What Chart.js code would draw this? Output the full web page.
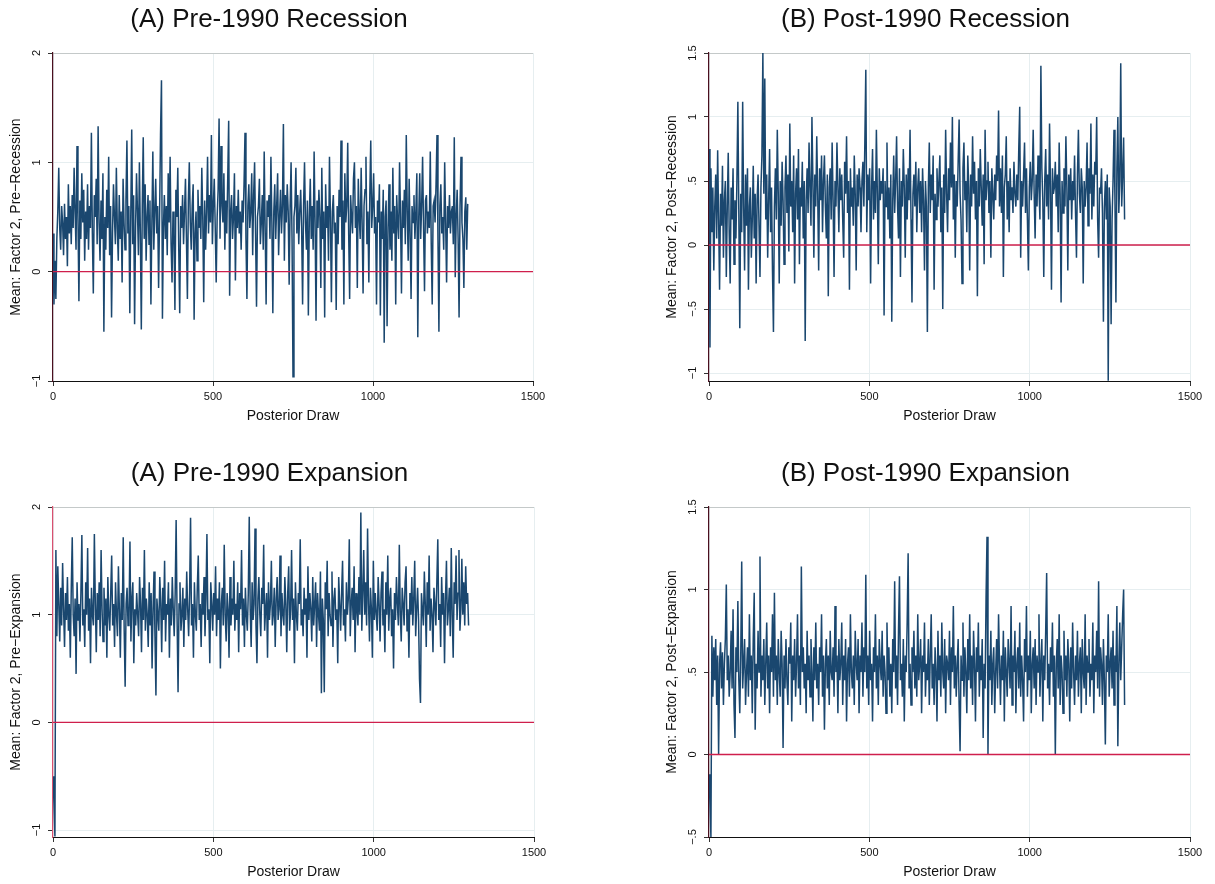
<!DOCTYPE html>
<html>
<head>
<meta charset="utf-8">
<title>Trace plots: Factor 2 means</title>
<script src="https://cdn.jsdelivr.net/npm/chart.js"></script>
<style>
    body { margin: 0; background: #fff; }
    #wrap { position: relative; width: 1215px; height: 884px; background: #fff; overflow: hidden; }
    #wrap canvas { position: absolute; }
</style>
</head>
<body>
<div id="wrap">
    <canvas id="preRecChart" width="555" height="430" style="left:0;top:0;width:555px;height:430px"></canvas>
    <canvas id="postRecChart" width="565" height="430" style="left:650px;top:0;width:565px;height:430px"></canvas>
    <canvas id="preExpChart" width="555" height="439" style="left:0;top:445px;width:555px;height:439px"></canvas>
    <canvas id="postExpChart" width="565" height="439" style="left:650px;top:445px;width:565px;height:439px"></canvas>
</div>
<script>
// posterior draws are kept every DRAW_STEP draws (0 .. 1296)
const DRAW_STEP = 3;

const xTicks = [0, 500, 1000, 1500];
const xTickLabels = ['0', '500', '1000', '1500'];
const xTitle = 'Posterior Draw';

// (A) Pre-1990 Recession
const preRecession = [
    0.35, -0.3, 0.1, -0.25, 0.3, 0.55, 0.95, 0.4, 0.2, 0.6,
    0.45, 0.15, 0.62, 0.3, 0.5, 0.05, 0.8, 0.35, 0.6, 0.25,
    0.7, 0.4, 0.95, 0.55, 0.2, 1.15, 0.5, -0.27, 0.65, 0.3,
    0.9, 0.45, 0.75, 0.1, 0.55, 0.3, 0.8, 0.2, 0.6, 0.4,
    1.27, 0.35, -0.2, 0.7, 0.5, 0.85, 0.25, 1.33, 0.45, 0.1,
    0.65, 0.3, 0.9, -0.55, 0.5, 0.2, 0.75, 0.4, 1.05, 0.15,
    0.6, -0.42, 0.35, 0.8, 0.5, 0.25, 0.95, 0.4, 0.1, 0.7,
    0.3, 0.55, -0.1, 0.85, 0.45, 0.2, 0.65, 1.2, 0.35, 0.6,
    -0.38, 0.5, 1.3, 0.25, 0.7, -0.48, 0.4, 0.9, 0.55, 0.15,
    1.0, 0.35, -0.53, 0.6, 1.23, 0.3, 0.8, 0.1, 0.5, 0.7,
    0.25, 0.65, -0.3, 0.45, 1.1, 0.2, 0.55, 0.85, 0.35, 0.6,
    -0.15, 0.5, 1.25, 1.75, -0.43, 0.4, 0.7, 0.3, 0.6, 0.15,
    0.9, 0.45, 1.05, 0.25, -0.1, 0.55, 0.35, -0.35, 0.75, 0.5,
    0.95, 0.2, -0.38, 0.6, 0.4, 0.7, 0.25, 0.55, 0.85, 0.3,
    -0.25, 0.65, 1.0, 0.45, 0.2, 0.6, 0.8, -0.44, 0.35, 0.55,
    0.1, 0.75, 0.4, 0.6, 0.3, 0.95, 0.5, -0.28, 0.65, 0.2,
    0.55, 1.05, 0.35, 0.7, 0.45, 1.25, 0.25, 0.6, 0.85, 0.4,
    -0.1, 0.5, 0.75, 1.4, 0.3, 1.15, 0.6, 0.45, 0.9, 0.2,
    0.65, 0.35, 0.85, 1.38, -0.22, 0.55, 0.7, 0.3, 0.5, 0.9,
    -0.08, 0.6, 0.4, 0.75, 0.35, 0.55, 0.2, 0.65, 0.45, 0.8,
    1.27, 0.3, -0.25, 0.6, 0.8, 0.4, 0.55, 0.9, 0.15, 0.7,
    1.0, 0.35, -0.32, 0.5, 0.6, 0.85, 0.25, 0.45, 0.7, 0.2,
    1.1, 0.4, -0.3, 0.65, 0.5, 0.7, 0.3, 1.05, 0.45, -0.38,
    0.55, 0.8, 0.3, 0.6, 0.9, 0.15, 0.5, 0.75, 0.35, 0.6,
    1.35, 0.1, 0.7, 0.45, 0.8, 0.55, -0.12, 0.6, 1.0, 0.3,
    -0.96, 0.5, 0.6, 0.95, 0.35, 0.7, 0.25, 0.55, 0.75, 0.4,
    -0.3, 0.6, 1.0, 0.45, 0.2, 0.65, -0.4, 0.5, 0.85, 0.3,
    0.6, 0.2, 1.1, 0.45, -0.45, 0.65, 0.4, 0.75, 0.5, -0.15,
    0.95, 0.3, 0.55, -0.42, 0.8, 0.4, 0.6, 0.1, 1.05, 0.5,
    -0.28, 0.55, 0.7, 0.35, 0.45, -0.35, 0.6, 0.25, 0.75, 0.5,
    1.2, 0.2, 0.65, -0.3, 0.9, 0.45, 0.6, 1.18, 0.35, -0.25,
    0.7, 0.5, 0.35, 0.85, 1.0, 0.4, 0.6, -0.15, 0.85, 0.5,
    0.3, 0.95, 0.45, -0.2, 0.6, 0.75, 1.05, 0.25, 0.55, -0.1,
    0.7, 1.2, 0.4, 0.6, 0.9, 0.35, 0.5, -0.3, 0.65, 0.45,
    0.8, -0.4, 0.55, 0.3, 0.75, -0.65, 0.5, 0.65, -0.5, 0.4,
    0.8, 0.2, 0.55, 0.1, 0.95, 0.35, 0.6, -0.3, 0.7, 0.45,
    0.3, 1.0, 0.5, -0.2, 0.65, 0.4, 0.75, 0.25, 1.25, 0.55,
    0.1, 0.85, 0.35, -0.25, 0.6, 0.45, 0.7, 0.3, 0.55, 0.9,
    -0.6, 0.5, 0.9, 0.3, 0.6, 1.05, 0.4, -0.18, 0.65, 0.7,
    0.35, 0.55, 0.4, 1.1, 0.25, -0.3, 0.6, 0.65, 0.45, 0.8,
    1.25, 0.3, -0.55, 0.6, 0.8, 0.35, 0.5, 0.2, 1.0, 0.45,
    -0.1, 0.6, 0.4, 0.7, 0.35, 0.55, 0.6, 0.25, 1.23, -0.05,
    0.5, 0.75, 0.3, -0.42, 0.6, 1.05, 0.45, 0.3, -0.15, 0.55,
    0.68, 0.2, 0.62
];
const preRecTicks = [-1, 0, 1, 2];
const preRecTickLabels = ['\u22121', '0', '1', '2'];

// (B) Post-1990 Recession
const postRecession = [
    0.75, -0.8, 0.6, 0.1, 0.45, -0.2, 0.3, 0.55, 0.05, 0.74,
    0.2, -0.35, 0.4, 0.15, 0.62, -0.1, 0.35, 0.5, -0.25, 0.3,
    0.72, 0.1, -0.3, 0.45, 0.2, 0.6, -0.15, 0.35, 0.05, 0.5,
    1.12, 0.25, -0.65, 0.4, 0.1, 1.12, 0.3, -0.2, 0.55, 0.15,
    0.6, -0.35, 0.3, 0.45, -0.1, 0.2, 0.62, 0.05, 0.4, -0.3,
    0.35, 0.55, 0.15, -0.25, 0.45, 0.7, 1.5, 0.4, 1.3, 0.2,
    0.55, -0.1, 0.35, 0.75, 0.1, 0.45, -0.2, -0.68, 0.3, 0.6,
    0.2, 0.9, 0.4, -0.3, 0.5, 0.15, 0.65, 0.35, -0.15, 0.45,
    0.7, 0.25, 0.55, -0.05, 0.95, 0.3, 0.5, 0.1, 0.7, -0.3,
    0.4, 0.6, 0.2, 0.75, -0.15, 0.45, 0.3, 0.65, 0.05, 0.5,
    -0.75, 0.35, 0.6, 0.25, 0.8, 0.45, 0.15, 1.0, 0.5, -0.1,
    0.55, 0.3, 0.85, 0.4, -0.2, 0.6, 0.35, 0.7, 0.1, 0.5,
    0.7, 0.3, 0.05, 0.55, -0.4, 0.45, 0.6, 0.2, 0.8, 0.35,
    -0.25, 0.5, 0.3, 0.8, 0.45, 0.1, 0.6, 0.35, 0.55, 0.2,
    -0.1, 0.65, 0.4, 0.85, 0.25, 0.5, -0.35, 0.6, 0.3, 0.45,
    0.15, 0.7, 0.4, -0.2, 0.55, 0.3, 0.6, 0.45, 0.1, 0.5,
    0.65, 0.3, 0.8, 1.37, 0.1, 0.55, 0.35, 0.6, -0.3, 0.45,
    0.75, 0.2, 0.5, 0.25, 0.9, 0.4, -0.15, 0.6, 0.35, 0.5,
    0.4, 0.6, -0.55, 0.5, 0.3, 0.8, 0.2, 0.45, 0.05, 0.55,
    -0.6, 0.35, 0.7, 0.25, 0.5, 0.85, 0.3, 0.05, 0.6, -0.25,
    0.5, 0.3, 0.75, 0.45, -0.1, 0.55, 0.2, 0.6, 0.35, 0.9,
    0.2, -0.45, 0.4, 0.55, 0.3, 0.65, 0.1, 0.45, 0.6, 0.25,
    0.5, 0.1, 0.6, 0.35, -0.2, 0.5, 0.3, -0.68, 0.45, 0.8,
    0.25, 0.55, 0.35, 0.7, -0.35, 0.4, 0.2, 0.6, 0.3, 0.5,
    0.7, 0.1, 0.45, -0.5, 0.55, 0.25, 0.9, 0.4, 0.1, 0.6,
    0.35, 0.8, 0.45, 1.0, 0.2, 0.55, -0.1, 0.5, 0.3, 0.65,
    0.98, 0.4, 0.2, -0.3, 0.6, 0.8, 0.35, 0.5, 0.1, 0.7,
    0.45, -0.2, 0.55, 0.3, 0.85, 0.4, 0.65, 0.2, 0.5, -0.4,
    0.6, 0.3, 0.75, 0.45, 0.15, 0.55, -0.15, 0.9, 0.35, 0.5,
    0.65, 0.25, 0.5, -0.1, 0.6, 0.4, 0.2, 0.55, 0.35, 0.7,
    0.5, 1.05, 0.3, 0.6, 0.25, 0.7, -0.25, 0.45, 0.55, 0.85,
    0.2, 0.5, 0.1, 0.6, 0.35, 0.45, 0.25, 0.65, 0.4, 0.3,
    0.55, 0.35, 0.75, 1.08, -0.1, 0.5, 0.3, 0.55, 0.8, 0.25,
    0.6, 0.2, -0.2, 0.45, 0.65, 0.35, 0.5, 0.9, 0.4, 0.05,
    0.55, 0.3, 0.7, 0.45, 0.2, 1.4, 0.6, 0.35, -0.25, 0.5,
    0.75, 0.3, 0.55, 0.2, 0.95, 0.45, -0.35, 0.6, 0.4, 0.45,
    0.65, 0.3, 0.55, 0.1, 0.8, 0.4, -0.45, 0.5, 0.25, 0.6,
    0.3, 0.85, 0.45, -0.2, 0.55, 0.35, 0.6, 0.2, 0.5, 0.35,
    0.7, 0.25, -0.1, 0.55, 0.9, 0.4, 0.25, 0.6, 0.45, -0.3,
    0.5, 0.3, 0.45, 0.8, 0.15, 0.6, 0.4, 0.95, 0.2, 0.55,
    0.3, 0.65, 0.55, 1.0, 0.2, -0.1, 0.45, 0.4, 0.6, 0.25,
    -0.6, 0.3, 0.5, 0.2, 0.55, -1.06, 0.45, 0.3, -0.62, 0.2,
    0.5, 0.9, 0.35, -0.45, 0.6, 1.0, 0.25, 0.5, 1.42, 0.3,
    0.55, 0.84, 0.2
];
const postRecTicks = [-1, -0.5, 0, 0.5, 1, 1.5];
const postRecTickLabels = ['\u22121', '\u2212.5', '0', '.5', '1', '1.5'];

// (A) Pre-1990 Expansion
const preExpansion = [
    -0.5, -0.75, -1.06, 1.6, 0.8, 1.45, 1.1, 0.75, 1.25, 0.9,
    1.48, 1.05, 0.7, 1.2, 0.95, 1.35, 0.85, 1.1, 0.6, 1.25,
    1.72, 1.0, 0.8, 1.15, 0.45, 1.3, 0.95, 1.1, 0.75, 1.2,
    1.74, 0.9, 1.05, 0.7, 1.3, 1.0, 1.62, 0.85, 1.15, 0.55,
    1.25, 1.0, 0.9, 1.75, 1.1, 0.65, 1.2, 0.95, 1.3, 0.8,
    1.6, 1.05, 0.75, 1.25, 0.9, 1.15, 0.6, 1.35, 1.0, 0.85,
    1.2, 1.55, 0.9, 1.1, 0.7, 1.3, 1.0, 0.8, 1.45, 1.05,
    0.6, 1.2, 0.95, 1.72, 0.85, 0.33, 1.1, 1.25, 0.9, 1.0,
    1.68, 0.75, 1.15, 1.3, 0.55, 1.05, 0.9, 1.2, 1.0, 0.8,
    1.35, 1.1, 0.65, 1.25, 0.95, 1.6, 0.85, 1.15, 1.0, 0.7,
    1.3, 0.9, 1.2, 0.5, 1.05, 1.4, 0.8, 0.25, 1.15, 1.0,
    0.85, 1.35, 1.1, 0.65, 1.25, 0.95, 1.5, 0.75, 1.1, 1.0,
    1.3, 0.6, 1.15, 0.9, 1.35, 1.05, 0.8, 1.2, 1.88, 0.95,
    0.28, 1.1, 1.3, 0.85, 1.0, 1.25, 0.7, 1.15, 0.95, 1.4,
    1.05, 0.8, 1.2, 1.9, 0.9, 1.1, 0.6, 1.3, 1.0, 0.85,
    1.25, 1.55, 0.95, 1.1, 0.7, 1.2, 1.0, 1.35, 0.8, 1.15,
    1.75, 0.95, 1.05, 0.55, 1.3, 1.1, 0.85, 1.2, 1.0, 1.45,
    0.8, 1.15, 0.95, 1.3, 0.5, 1.1, 1.25, 0.9, 1.65, 1.0,
    0.75, 1.2, 1.05, 0.6, 1.35, 0.9, 1.15, 1.0, 1.5, 0.85,
    1.1, 0.95, 1.3, 0.65, 1.2, 1.05, 1.6, 0.9, 1.15, 0.7,
    1.25, 1.0, 0.85, 1.2, 1.91, 1.05, 0.7, 1.3, 0.95, 1.1,
    1.8, 0.9, 0.55, 1.15, 1.35, 1.0, 0.8, 1.25, 1.1, 1.65,
    0.85, 1.05, 1.2, 0.6, 1.3, 0.95, 1.1, 1.5, 0.9, 1.0,
    1.25, 0.7, 1.15, 1.35, 0.95, 1.05, 1.55, 0.8, 1.2, 1.0,
    0.9, 1.35, 1.1, 0.65, 1.2, 1.45, 0.85, 1.05, 1.6, 0.95,
    1.15, 0.55, 1.3, 1.0, 0.85, 1.2, 1.1, 1.7, 0.9, 1.05,
    0.8, 1.25, 1.0, 1.15, 0.6, 1.45, 0.95, 1.2, 1.05, 0.75,
    1.35, 0.9, 1.1, 1.3, 0.7, 1.2, 1.0, 0.85, 1.4, 0.27,
    1.15, 0.95, 0.28, 1.3, 1.05, 1.5, 0.8, 1.2, 1.0, 0.9,
    1.4, 0.7, 1.15, 1.25, 0.95, 1.05, 0.55, 1.35, 1.1, 0.85,
    1.2, 1.5, 0.9, 1.05, 0.75, 1.3, 1.0, 1.15, 1.7, 0.8,
    1.1, 1.25, 0.95, 1.45, 0.65, 1.2, 1.05, 0.9, 1.35, 1.0,
    1.95, 0.85, 1.2, 1.6, 1.0, 1.3, 0.9, 1.8, 1.1, 0.75,
    1.25, 1.05, 0.6, 1.5, 0.95, 1.2, 1.0, 0.85, 1.35, 1.1,
    0.75, 1.2, 1.4, 0.9, 1.05, 0.65, 1.3, 1.0, 1.55, 0.85,
    1.15, 1.25, 0.8, 1.05, 0.5, 1.2, 0.95, 1.35, 1.1, 0.9,
    1.65, 1.0, 0.75, 1.25, 1.1, 0.9, 1.3, 1.45, 0.85, 1.05,
    0.6, 1.2, 1.0, 1.35, 0.9, 1.15, 1.5, 0.8, 1.05, 1.25,
    0.95, 0.4, 0.18, 1.2, 1.05, 0.9, 1.4, 1.1, 0.7, 1.3,
    1.0, 1.55, 0.85, 1.15, 1.0, 0.65, 1.25, 1.1, 0.9, 1.3,
    1.7, 0.95, 1.1, 0.7, 1.35, 1.0, 1.2, 0.55, 1.15, 1.5,
    0.9, 1.05, 1.25, 0.8, 1.62, 1.0, 0.6, 1.3, 1.1, 1.55,
    0.95, 1.2, 1.6, 0.85, 1.05, 1.52, 1.0, 1.3, 0.9, 1.45,
    1.1, 1.2, 0.9
];
const preExpTicks = [-1, 0, 1, 2];
const preExpTickLabels = ['\u22121', '0', '1', '2'];

// (B) Post-1990 Expansion
const postExpansion = [
    -0.12, -0.3, -0.5, 0.72, 0.35, 0.65, 0.45, 0.7, 0.3, 0.6,
    0.0, 0.55, 0.68, 0.4, 0.62, 0.3, 0.55, 0.7, 1.03, 0.45,
    0.6, 0.35, 0.5, 0.75, 0.4, 0.88, 0.3, 0.1, 0.65, 0.5,
    0.93, 0.45, 0.25, 0.6, 1.17, 0.4, 0.55, 0.7, 0.3, 0.5,
    0.65, 0.35, 0.85, 0.45, 0.6, 0.25, 0.7, 0.98, 0.15, 0.55,
    0.4, 0.75, 0.5, 1.2, 0.35, 0.6, 0.45, 0.7, 0.3, 0.55,
    0.8, 0.4, 0.6, 0.25, 0.65, 0.5, 0.85, 0.35, 0.98, 0.45,
    0.6, 0.3, 0.7, 0.5, 0.35, 0.75, 0.55, 0.04, 0.6, 0.4,
    0.7, 0.45, 0.3, 0.65, 0.55, 0.8, 0.2, 0.6, 0.45, 0.7,
    0.35, 0.55, 0.85, 0.4, 0.6, 0.3, 1.14, 0.5, 0.65, 0.4,
    0.55, 0.25, 0.75, 0.45, 0.6, 0.35, 0.7, 0.5, 0.2, 0.65,
    0.45, 0.8, 0.4, 0.55, 0.3, 0.65, 0.5, 0.85, 0.35, 0.6,
    0.15, 0.55, 0.7, 0.4, 0.6, 0.3, 0.75, 0.5, 0.45, 0.65,
    0.35, 0.9, 0.5, 0.6, 0.25, 0.7, 0.45, 0.55, 0.8, 0.3,
    0.6, 0.45, 0.7, 0.2, 0.55, 0.65, 0.35, 0.85, 0.5, 0.4,
    0.6, 0.3, 0.75, 0.55, 0.45, 0.7, 0.25, 0.6, 0.5, 0.8,
    0.35, 0.65, 0.5, 1.09, 0.4, 0.6, 0.3, 0.75, 0.45, 0.55,
    0.2, 0.65, 0.5, 0.85, 0.4, 0.6, 0.3, 0.7, 0.55, 0.45,
    0.75, 0.35, 0.6, 0.5, 0.25, 0.8, 0.45, 0.65, 0.35, 0.55,
    0.25, 0.7, 0.5, 1.05, 0.4, 0.6, 0.3, 0.75, 1.08, 0.45,
    0.55, 0.35, 0.7, 0.2, 0.6, 0.5, 0.8, 1.22, 0.4, 0.55,
    0.3, 0.65, 0.5, 0.75, 0.4, 0.6, 0.35, 0.85, 0.45, 0.55,
    0.7, 0.25, 0.6, 0.5, 0.8, 0.35, 0.55, 0.45, 0.7, 0.3,
    0.6, 0.85, 0.4, 0.55, 0.3, 0.65, 0.5, 0.2, 0.75, 0.45,
    0.6, 0.35, 0.8, 0.5, 0.4, 0.7, 0.25, 0.6, 0.55, 0.45,
    0.75, 0.3, 0.65, 0.5, 0.9, 0.4, 0.6, 0.35, 0.55, 0.7,
    0.3, 0.02, 0.6, 0.45, 0.8, 0.35, 0.65, 0.5, 0.25, 0.7,
    0.45, 0.85, 0.4, 0.6, 0.3, 0.75, 0.55, 0.2, 0.65, 0.5,
    0.8, 0.35, 0.6, 0.45, 0.7, 0.1, 0.55, 0.4, 0.95, 1.32,
    0.0, 0.6, 0.45, 0.75, 0.3, 0.55, 0.65, 0.25, 0.5, 0.7,
    0.4, 0.85, 0.55, 0.3, 0.6, 0.45, 0.75, 0.2, 0.65, 0.5,
    0.35, 0.7, 0.55, 0.4, 0.9, 0.3, 0.6, 0.5, 0.75, 0.25,
    0.55, 0.65, 0.4, 0.8, 0.35, 0.6, 0.45, 0.2, 0.7, 0.5,
    0.9, 0.35, 0.6, 0.45, 0.75, 0.25, 0.55, 0.65, 0.4, 0.7,
    0.3, 0.6, 0.5, 0.85, 0.35, 0.55, 0.7, 0.2, 0.6, 0.45,
    0.75, 1.1, 0.4, 0.55, 0.3, 0.65, 0.5, 0.8, 0.35, 0.6,
    0.0, 0.55, 0.7, 0.4, 0.85, 0.3, 0.6, 0.5, 0.25, 0.75,
    0.45, 0.6, 0.35, 0.7, 0.55, 0.2, 0.65, 0.4, 0.8, 0.5,
    0.3, 0.6, 0.45, 0.75, 0.35, 0.55, 0.65, 0.25, 0.7, 0.5,
    0.4, 0.85, 0.3, 0.6, 0.5, 0.7, 0.35, 0.55, 0.45, 0.8,
    0.25, 0.6, 0.5, 0.75, 0.4, 1.05, 0.35, 0.65, 0.55, 0.3,
    0.7, 0.45, 0.06, 0.6, 0.5, 0.85, 0.35, 0.55, 0.65, 0.4,
    0.75, 0.3, 0.6, 0.5, 0.9, 0.05, 0.55, 0.8, 0.45, 0.65,
    0.85, 1.0, 0.3
];
const postExpTicks = [-0.5, 0, 0.5, 1, 1.5];
const postExpTickLabels = ['\u2212.5', '0', '.5', '1', '1.5'];

const LINE_COLOR = '#1a476f';
const ZERO_COLOR = '#cf1f4c';
const GRID_COLOR = '#e6eef0';
const TOP_GRID_COLOR = '#c4c9c9';
const FONT = '"Liberation Sans", Arial, Helvetica, sans-serif';

// Draws the Stata-like pieces Chart.js can't do itself: rotated y labels, titles, zero line
const stataLook = {
    id: 'stataLook',
    afterDatasetsDraw(chart, args, o) {
        const ctx = chart.ctx;
        const area = chart.chartArea;
        const y0 = chart.scales.y.getPixelForValue(0);
        ctx.save();
        ctx.strokeStyle = ZERO_COLOR;
        ctx.lineWidth = 1.4;
        ctx.beginPath();
        ctx.moveTo(area.left, y0);
        ctx.lineTo(area.right, y0);
        ctx.stroke();
        ctx.restore();
    },
    afterDraw(chart, args, o) {
        const ctx = chart.ctx;
        const area = chart.chartArea;
        const yScale = chart.scales.y;
        ctx.save();
        ctx.fillStyle = '#111';
        ctx.textAlign = 'center';
        ctx.textBaseline = 'middle';

        // rotated y tick labels
        ctx.font = '11px ' + FONT;
        o.ticks.forEach((v, i) => {
            ctx.save();
            ctx.translate(area.left - 16, yScale.getPixelForValue(v));
            ctx.rotate(-Math.PI / 2);
            ctx.fillText(o.tickLabels[i], 0, 0);
            ctx.restore();
        });

        // y axis title
        ctx.font = '14px ' + FONT;
        ctx.save();
        ctx.translate(area.left - 37, (area.top + area.bottom) / 2);
        ctx.rotate(-Math.PI / 2);
        ctx.fillText(o.yTitle, 0, 0);
        ctx.restore();

        // x axis title
        ctx.fillText(xTitle, (area.left + area.right) / 2, area.bottom + 35);

        // panel title
        ctx.font = '26px ' + FONT;
        ctx.fillText(o.title, (area.left + area.right) / 2 - 24, area.top - 33);
        ctx.restore();
    }
};

function makePanel(canvasId, values, p) {
    const points = values.map((v, i) => ({ x: i * DRAW_STEP, y: v }));
    return new Chart(document.getElementById(canvasId), {
        type: 'line',
        data: {
            datasets: [{
                data: points,
                borderColor: LINE_COLOR,
                borderWidth: 1.5,
                pointRadius: 0,
                tension: 0,
                fill: false
            }]
        },
        plugins: [stataLook],
        options: {
            responsive: false,
            animation: false,
            devicePixelRatio: 1,
            layout: { padding: { top: p.padTop, right: p.padRight, left: 0, bottom: 0 } },
            plugins: {
                legend: { display: false },
                tooltip: { enabled: false },
                stataLook: { title: p.title, yTitle: p.yTitle, ticks: p.ticks, tickLabels: p.tickLabels }
            },
            scales: {
                x: {
                    type: 'linear',
                    min: 0,
                    max: 1500,
                    afterBuildTicks: s => { s.ticks = xTicks.map(v => ({ value: v })); },
                    afterFit: s => { s.height = p.xHeight; s.paddingLeft = 0; s.paddingRight = 0; },
                    ticks: {
                        callback: (v) => xTickLabels[xTicks.indexOf(v)],
                        font: { family: FONT, size: 11 },
                        color: '#111',
                        padding: 4,
                        maxRotation: 0,
                        autoSkip: false
                    },
                    grid: { color: GRID_COLOR, tickColor: '#333', tickLength: 5, drawTicks: true },
                    border: { color: '#111', width: 1 }
                },
                y: {
                    type: 'linear',
                    min: p.yMin,
                    max: p.yMax,
                    afterBuildTicks: s => { s.ticks = p.ticks.map(v => ({ value: v })); },
                    afterFit: s => { s.width = p.yWidth; s.paddingTop = 0; s.paddingBottom = 0; },
                    ticks: { display: false },
                    grid: {
                        color: c => (c.tick && c.tick.value === p.yMax ? TOP_GRID_COLOR : GRID_COLOR),
                        tickColor: '#333',
                        tickLength: 5,
                        drawTicks: true
                    },
                    border: { color: p.axisColor, width: 1.2 }
                }
            }
        }
    });
}

makePanel('preRecChart', preRecession, {
    title: '(A) Pre-1990 Recession',
    yTitle: 'Mean: Factor 2, Pre\u2212Recession',
    ticks: preRecTicks, tickLabels: preRecTickLabels,
    yMin: -1, yMax: 2,
    padTop: 53, padRight: 22, yWidth: 53, xHeight: 49,
    axisColor: '#4a0f1e'
});

makePanel('postRecChart', postRecession, {
    title: '(B) Post-1990 Recession',
    yTitle: 'Mean: Factor 2, Post\u2212Recession',
    ticks: postRecTicks, tickLabels: postRecTickLabels,
    yMin: -1.0625, yMax: 1.5,
    padTop: 53, padRight: 25, yWidth: 59, xHeight: 49,
    axisColor: '#4a0f1e'
});

makePanel('preExpChart', preExpansion, {
    title: '(A) Pre-1990 Expansion',
    yTitle: 'Mean: Factor 2, Pre\u2212Expansion',
    ticks: preExpTicks, tickLabels: preExpTickLabels,
    yMin: -1.065, yMax: 2,
    padTop: 62, padRight: 21, yWidth: 53, xHeight: 47,
    axisColor: '#d9506f'
});

makePanel('postExpChart', postExpansion, {
    title: '(B) Post-1990 Expansion',
    yTitle: 'Mean: Factor 2, Post\u2212Expansion',
    ticks: postExpTicks, tickLabels: postExpTickLabels,
    yMin: -0.5, yMax: 1.5,
    padTop: 62, padRight: 25, yWidth: 59, xHeight: 47,
    axisColor: '#4a0f1e'
});
</script>
</body>
</html>
